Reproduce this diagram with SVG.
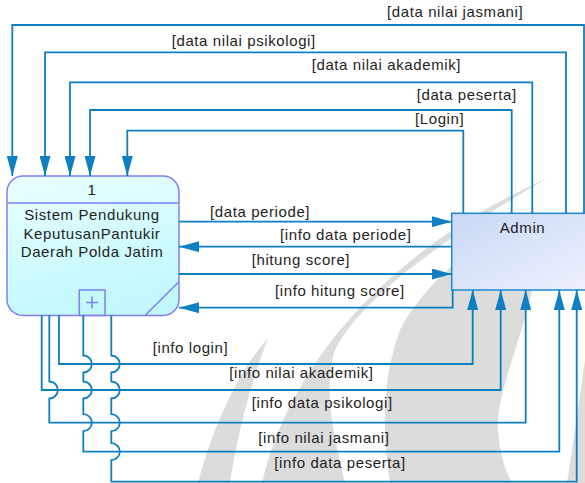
<svg xmlns="http://www.w3.org/2000/svg" width="585" height="483" viewBox="0 0 585 483">
  <style>
    .conn { fill: none; stroke: #0e7fc1; stroke-width: 1.8; }
    .arr { marker-end: url(#arrow); }
    .lbl { font-family: "Liberation Sans", Arial, sans-serif; font-size: 15px; letter-spacing: 0.6px; fill: #1e1e1e; }
    .mid { text-anchor: middle; }
    .proc-line { fill: none; stroke: #7f7ff2; stroke-width: 1.5; }
    .wm { fill: #dcdcdc; }
  </style>
  <defs>
    <marker id="arrow" viewBox="0 0 20 11" refX="20" refY="5.5" markerWidth="20" markerHeight="11" markerUnits="userSpaceOnUse" orient="auto">
      <path d="M0,0 L20,5.5 L0,11 Z" fill="#0e7fc1"/>
    </marker>
    <linearGradient id="procFill" x1="0" y1="0" x2="0.3" y2="1">
      <stop offset="0" stop-color="#e9ffff"/>
      <stop offset="1" stop-color="#c2f8fc"/>
    </linearGradient>
    <linearGradient id="adminFill" x1="0" y1="0" x2="1" y2="1">
      <stop offset="0" stop-color="#c8d8f6"/>
      <stop offset="1" stop-color="#f0f2fd"/>
    </linearGradient>
  </defs>

  <!-- background flame mark -->
  <g id="watermark">
    <path class="wm" d="M198,483 C215,420 240,370 268,338 C252,380 238,430 230,483 Z"/>
    <path class="wm" d="M262,483 C290,360 395,245 548,178 C440,240 360,300 335,350 C322,390 335,440 345,483 Z"/>
    <path class="wm" d="M390,483 C380,420 385,370 400,330 C420,290 470,240 540,213 C545,300 495,380 498,430 C500,455 505,470 512,483 Z"/>
    <path class="wm" d="M567,483 C572,450 578,410 585,360 L585,483 Z"/>
  </g>

  <!-- process node -->
  <g id="process-1">
    <rect x="7" y="176" width="172" height="139.5" rx="16" fill="url(#procFill)" stroke="#7f7ff2" stroke-width="1.5"/>
    <line class="proc-line" x1="7" y1="203" x2="179" y2="203"/>
    <text class="lbl mid" x="92" y="195">1</text>
    <text class="lbl mid" x="92" y="220.3">Sistem Pendukung</text>
    <text class="lbl mid" x="92" y="238.7">KeputusanPantukir</text>
    <text class="lbl mid" x="92" y="257">Daerah Polda Jatim</text>
    <rect class="proc-line" x="79.3" y="290" width="25.7" height="25.5"/>
    <path class="proc-line" d="M86,302.5 H98 M92,296.5 V308.5"/>
    <path class="proc-line" d="M145,315.5 L179,281.7"/>
  </g>

  <!-- external entity -->
  <g id="admin">
    <rect x="451.7" y="213.3" width="150" height="76.7" fill="url(#adminFill)" stroke="#1a8ad0" stroke-width="1.5"/>
    <text class="lbl mid" x="522.5" y="232.7">Admin</text>
  </g>

  <!-- data flows -->
  <g id="connectors">
    <!-- Admin to process, over the top -->
    <path class="conn arr" d="M584,213 V25 H12.3 V176"/>
    <path class="conn arr" d="M566,213 V52.3 H45 V176"/>
    <path class="conn arr" d="M532.3,213 V82.3 H70 V176"/>
    <path class="conn arr" d="M511.7,213 V110 H90 V176"/>
    <path class="conn arr" d="M463.3,213 V130.7 H127.3 V176"/>

    <!-- straight flows between the two -->
    <path class="conn arr" d="M179,221.7 H451.7"/>
    <path class="conn arr" d="M451.7,246.7 H179"/>
    <path class="conn arr" d="M179,274 H451.7"/>
    <path class="conn arr" d="M452.7,290 V307.7 H179"/>

    <!-- process to Admin, underneath, with line hops -->
    <path class="conn arr" d="M59,315.5 V364 H472.7 V290"/>
    <path class="conn arr" d="M41.7,315.5 V390 H500.7 V290"/>
    <path class="conn arr" d="M49.3,315.5 V381.5 A8.5,8.5 0 0 1 49.3,398.5 V422.7 H525.7 V290"/>
    <path class="conn arr" d="M83.3,315.5 V355.5 A8.5,8.5 0 0 1 83.3,372.5 V381.5 A8.5,8.5 0 0 1 83.3,398.5 V414.2 A8.5,8.5 0 0 1 83.3,431.2 V451.7 H559.3 V290"/>
    <path class="conn arr" d="M111.3,315.5 V355.5 A8.5,8.5 0 0 1 111.3,372.5 V381.5 A8.5,8.5 0 0 1 111.3,398.5 V414.2 A8.5,8.5 0 0 1 111.3,431.2 V443.2 A8.5,8.5 0 0 1 111.3,460.2 V481.7 H576.7 V290"/>

    <!-- flow labels -->
    <text class="lbl" x="387" y="17.1">[data nilai jasmani]</text>
    <text class="lbl" x="171.7" y="45.5">[data nilai psikologi]</text>
    <text class="lbl" x="311.7" y="69.8">[data nilai akademik]</text>
    <text class="lbl" x="416.7" y="99.5">[data peserta]</text>
    <text class="lbl" x="415" y="123.8">[Login]</text>
    <text class="lbl" x="210" y="217.1">[data periode]</text>
    <text class="lbl" x="280" y="239.8">[info data periode]</text>
    <text class="lbl" x="251.7" y="264.8">[hitung score]</text>
    <text class="lbl" x="275" y="295.5">[info hitung score]</text>
    <text class="lbl" x="152.7" y="352.8">[info login]</text>
    <text class="lbl" x="229.3" y="377.8">[info nilai akademik]</text>
    <text class="lbl" x="251.7" y="408.1">[info data psikologi]</text>
    <text class="lbl" x="258.3" y="442.8">[info nilai jasmani]</text>
    <text class="lbl" x="274.3" y="468.1">[info data peserta]</text>
  </g>
</svg>
